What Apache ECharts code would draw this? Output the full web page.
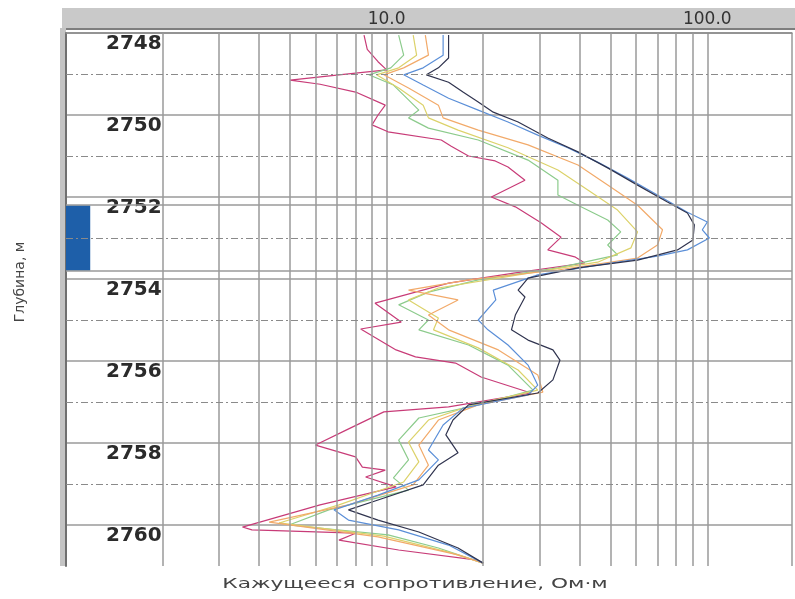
<!DOCTYPE html>
<html>
<head>
<meta charset="utf-8">
<script src="https://cdn.jsdelivr.net/npm/echarts@6/dist/echarts.min.js"></script>
<style>
html, body { margin: 0; padding: 0; background: #fff; }
#chart { width: 795px; height: 599px; }
</style>
</head>
<body>
<div id="chart"></div>
<script>
// глубина, м
const depthMin = 2748;
const depthMax = 2761;
const dashedDepths = [2749, 2751, 2753, 2755, 2757, 2759];
// пласт (синяя отметка слева)
const layerTop = 2752.2;
const layerBottom = 2753.8;
const layerRes = [1, 1.19];
// шкала сопротивления: видимый край справа
const resMin = 1;
const resMax = 183.7;
// промежуточные линии логарифмической шкалы
const minorGridX = [2, 3, 4, 5, 6, 7, 8, 9, 20, 30, 40, 50, 60, 70, 80, 90];

// кривые: [сопротивление, глубина]
const magentaCurve = [
    [8.5, 2748.05], [8.7, 2748.4], [9.4, 2748.7], [10.0, 2748.9], [7.1, 2749.02], [5.0, 2749.15],
    [6.2, 2749.25], [8.0, 2749.44], [9.9, 2749.76], [9.4, 2750.0], [9.0, 2750.24], [10.1, 2750.41],
    [14.8, 2750.61], [15.9, 2750.76], [18.0, 2751.0], [21.8, 2751.12], [23.9, 2751.27], [27.0, 2751.59],
    [21.2, 2752.0], [25.2, 2752.24], [30.3, 2752.63], [35.0, 2752.98], [31.8, 2753.29], [38.6, 2753.46],
    [41.5, 2753.61], [25.2, 2753.85], [15.6, 2754.1], [9.2, 2754.59], [11.1, 2755.05], [8.3, 2755.22],
    [10.7, 2755.73], [12.3, 2755.9], [16.4, 2756.05], [19.7, 2756.39], [28.2, 2756.78], [15.6, 2757.12],
    [9.8, 2757.24], [7.5, 2757.68], [6.0, 2758.05], [8.0, 2758.34], [8.4, 2758.59], [9.9, 2758.66],
    [8.6, 2758.83], [10.7, 2759.07], [6.2, 2759.51], [3.55, 2760.05], [3.8, 2760.12], [8.0, 2760.2],
    [7.1, 2760.37], [10.9, 2760.61], [18.9, 2760.85], [20.0, 2760.93]
];
const greenCurve = [
    [10.9, 2748.05], [11.3, 2748.54], [10.3, 2748.85], [8.8, 2749.02], [10.5, 2749.27], [11.7, 2749.63],
    [12.6, 2749.88], [11.7, 2750.07], [13.5, 2750.32], [19.3, 2750.61], [27.6, 2751.1], [34.2, 2751.59],
    [34.2, 2751.95], [39.5, 2752.2], [48.9, 2752.56], [53.7, 2752.85], [48.9, 2753.17], [52.5, 2753.41],
    [34.2, 2753.73], [19.3, 2754.02], [13.5, 2754.32], [10.9, 2754.63], [13.5, 2755.0], [12.6, 2755.24],
    [18.0, 2755.61], [23.9, 2756.1], [28.6, 2756.71], [19.3, 2757.07], [12.6, 2757.39], [10.9, 2757.93],
    [11.7, 2758.41], [10.5, 2758.85], [11.7, 2759.15], [6.6, 2759.63], [4.96, 2760.0], [10.1, 2760.24],
    [14.5, 2760.56], [20.0, 2760.93]
];
const yellowCurve = [
    [12.1, 2748.05], [12.4, 2748.54], [10.9, 2748.85], [9.3, 2749.02], [10.9, 2749.34], [13.0, 2749.76],
    [13.5, 2750.07], [16.7, 2750.37], [23.9, 2750.8], [34.2, 2751.34], [42.4, 2751.83], [52.5, 2752.32],
    [60.6, 2752.85], [57.8, 2753.24], [45.5, 2753.59], [25.7, 2753.9], [14.5, 2754.22], [11.7, 2754.51],
    [14.5, 2754.95], [14.0, 2755.24], [19.3, 2755.68], [25.7, 2756.22], [29.6, 2756.71], [18.6, 2757.07],
    [13.5, 2757.44], [11.7, 2757.98], [12.6, 2758.46], [11.3, 2758.95], [7.1, 2759.51], [4.62, 2759.95],
    [9.8, 2760.27], [15.6, 2760.66], [20.0, 2760.93]
];
const orangeCurve = [
    [13.2, 2748.05], [13.5, 2748.54], [11.3, 2748.85], [9.8, 2749.02], [11.7, 2749.34], [14.5, 2749.76],
    [15.0, 2750.07], [19.3, 2750.37], [27.6, 2750.73], [39.5, 2751.22], [48.9, 2751.71], [60.6, 2752.2],
    [72.5, 2752.8], [69.9, 2753.17], [60.6, 2753.49], [34.2, 2753.78], [18.0, 2754.02], [11.7, 2754.27],
    [16.7, 2754.51], [13.5, 2754.88], [15.6, 2755.24], [22.3, 2755.73], [29.6, 2756.34], [30.7, 2756.76],
    [19.3, 2757.07], [14.5, 2757.44], [12.6, 2758.05], [13.5, 2758.54], [12.1, 2759.02], [7.6, 2759.51],
    [4.3, 2759.93], [9.4, 2760.29], [16.7, 2760.73], [20.0, 2760.93]
];
const blueCurve = [
    [15.0, 2748.05], [15.0, 2748.54], [13.0, 2748.85], [11.3, 2749.02], [13.0, 2749.27], [15.6, 2749.59],
    [19.3, 2749.88], [23.9, 2750.17], [29.6, 2750.49], [36.7, 2750.8], [45.5, 2751.15], [56.4, 2751.54],
    [69.9, 2751.95], [86.7, 2752.37], [100, 2752.61], [96.5, 2752.8], [101.5, 2753.0], [86.7, 2753.29],
    [69.9, 2753.44], [45.5, 2753.66], [29.6, 2753.9], [21.5, 2754.27], [21.9, 2754.51], [19.3, 2755.0],
    [20.7, 2755.24], [23.9, 2755.61], [27.6, 2756.1], [29.6, 2756.59], [27.6, 2756.83], [17.3, 2757.15],
    [15.0, 2757.56], [13.5, 2758.17], [14.5, 2758.41], [12.6, 2758.9], [9.4, 2759.27], [6.85, 2759.63],
    [7.6, 2759.88], [10.9, 2760.12], [15.6, 2760.49], [20.0, 2760.93]
];
const navyCurve = [
    [15.6, 2748.05], [15.6, 2748.61], [14.5, 2748.85], [13.3, 2749.02], [15.6, 2749.2], [17.3, 2749.44],
    [19.3, 2749.68], [21.5, 2749.93], [25.7, 2750.17], [31.8, 2750.56], [39.5, 2750.9], [48.9, 2751.29],
    [60.6, 2751.71], [75.1, 2752.12], [86.7, 2752.39], [91.1, 2752.68], [90.2, 2753.05], [80.7, 2753.29],
    [60.6, 2753.54], [39.5, 2753.73], [27.6, 2753.98], [25.7, 2754.27], [27.0, 2754.44], [25.2, 2754.88],
    [24.5, 2755.24], [27.6, 2755.49], [33.0, 2755.73], [34.7, 2755.98], [33.0, 2756.46], [29.6, 2756.78],
    [18.0, 2757.07], [16.1, 2757.44], [15.3, 2757.8], [16.7, 2758.24], [14.5, 2758.54], [13.0, 2759.02],
    [9.4, 2759.39], [7.6, 2759.63], [9.4, 2759.88], [12.6, 2760.17], [16.7, 2760.56], [20.0, 2760.93]
];

function curveSeries(name, data, color) {
    return {
        name: name,
        type: 'line',
        data: data,
        showSymbol: false,
        symbol: 'none',
        silent: true,
        z: 3,
        lineStyle: { color: color, width: 1.2 }
    };
}

let chart = echarts.init(document.getElementById('chart'));
let option = {
    animation: false,
    grid: { left: 66, top: 33, right: 0, height: 533 },
    xAxis: {
        type: 'log',
        logBase: 10,
        min: resMin,
        max: resMax,
        position: 'top',
        axisLine: { show: true, lineStyle: { color: '#8a8a8a', width: 1.5 } },
        axisTick: { show: false },
        axisLabel: {
            margin: 5,
            fontSize: 17,
            fontFamily: 'DejaVu Sans',
            color: '#333',
            formatter: function (v) {
                let r = Math.round(v);
                return (r === 10 || r === 100) ? r.toFixed(1) : '';
            }
        },
        splitLine: { show: true, lineStyle: { color: '#9a9a9a', width: 1.5 } }
    },
    yAxis: {
        type: 'value',
        inverse: true,
        min: depthMin,
        max: depthMax,
        interval: 2,
        axisLine: { show: true, lineStyle: { color: '#707070', width: 2 } },
        axisTick: { show: false },
        axisLabel: {
            inside: true,
            margin: 40,
            verticalAlign: 'top',
            padding: [1, 0, 0, 0],
            fontSize: 20,
            fontWeight: 'bold',
            fontFamily: 'DejaVu Sans',
            color: '#2b2b2b',
            formatter: function (v) {
                return v % 2 === 0 ? String(v) : '';
            }
        },
        splitLine: { show: true, showMaxLine: false, lineStyle: { color: '#9a9a9a', width: 1.5 } }
    },
    graphic: [
        // серая шапка и левая полоса
        { type: 'rect', z: -10, shape: { x: 62, y: 8, width: 733, height: 20 }, style: { fill: '#c9c9c9' } },
        { type: 'rect', z: -10, shape: { x: 62, y: 28, width: 733, height: 2 }, style: { fill: '#7e7e7e' } },
        { type: 'rect', z: -10, shape: { x: 60, y: 28, width: 6, height: 538 }, style: { fill: '#c4c4c4' } },
        {
            type: 'text', x: 415, y: 584, scaleX: 1.55, z: 10,
            style: {
                text: 'Кажущееся сопротивление, Ом·м',
                fontSize: 14, fontFamily: 'DejaVu Sans', fill: '#444',
                align: 'center', verticalAlign: 'middle',
                textAlign: 'center', textVerticalAlign: 'middle'
            }
        },
        {
            type: 'text', x: 20, y: 282, rotation: Math.PI / 2, z: 10,
            style: {
                text: 'Глубина, м',
                fontSize: 14, fontFamily: 'DejaVu Sans', fill: '#444',
                align: 'center', verticalAlign: 'middle',
                textAlign: 'center', textVerticalAlign: 'middle'
            }
        }
    ],
    series: [
        {
            name: 'grid',
            type: 'line',
            data: [],
            silent: true,
            z: 1,
            markLine: {
                silent: true,
                symbol: ['none', 'none'],
                label: { show: false },
                lineStyle: { color: '#9a9a9a', width: 1.5, type: 'solid' },
                data: minorGridX.map(function (v) { return { xAxis: v }; })
                    .concat(dashedDepths.map(function (d) {
                        return { yAxis: d, lineStyle: { type: [7, 3, 2, 3], color: '#8a8a8a', width: 1.2 } };
                    }))
                    .concat([{ yAxis: layerTop }, { yAxis: layerBottom }])
            },
            markArea: {
                silent: true,
                itemStyle: { color: '#1e5fa9' },
                data: [[{ xAxis: layerRes[0], yAxis: layerTop }, { xAxis: layerRes[1], yAxis: layerBottom }]]
            }
        },
        curveSeries('m', magentaCurve, '#c83c78'),
        curveSeries('g', greenCurve, '#8ccb8c'),
        curveSeries('y', yellowCurve, '#dcd26a'),
        curveSeries('o', orangeCurve, '#f2aa6a'),
        curveSeries('b', blueCurve, '#5b8fd8'),
        curveSeries('n', navyCurve, '#30344f')
    ]
};
chart.setOption(option);
</script>
</body>
</html>
